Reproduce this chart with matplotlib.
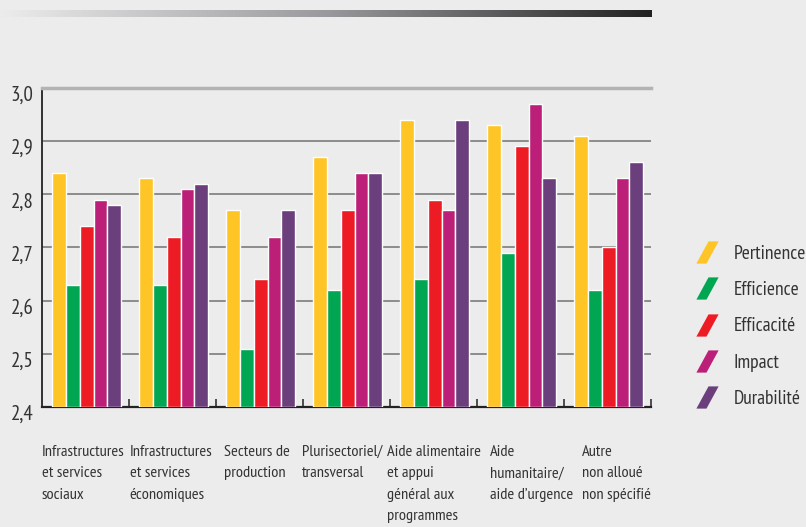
import matplotlib
matplotlib.use("Agg")
import matplotlib.pyplot as plt
import numpy as np
from matplotlib.lines import Line2D
from matplotlib.path import Path
from matplotlib.transforms import ScaledTranslation

categories = [
    "Infrastructures\net services\nsociaux",
    "Infrastructures\net services\néconomiques",
    "Secteurs de\nproduction",
    "Plurisectoriel/\ntransversal",
    "Aide alimentaire\net appui\ngénéral aux\nprogrammes",
    "Aide\nhumanitaire/\naide d\u2019urgence",
    "Autre\nnon alloué\nnon spécifié",
]
series = ["Pertinence", "Efficience", "Efficacité", "Impact", "Durabilité"]
pertinence = [2.84, 2.83, 2.77, 2.87, 2.94, 2.93, 2.91]
efficience = [2.63, 2.63, 2.51, 2.62, 2.64, 2.69, 2.62]
efficacite = [2.74, 2.72, 2.64, 2.77, 2.79, 2.89, 2.70]
impact = [2.79, 2.81, 2.72, 2.84, 2.77, 2.97, 2.83]
durabilite = [2.78, 2.82, 2.77, 2.84, 2.94, 2.83, 2.86]
values = [pertinence, efficience, efficacite, impact, durabilite]
colors = ["#ffc425", "#00a651", "#ed1c24", "#bb1f77", "#6a3f7c"]
yticks = [2.4, 2.5, 2.6, 2.7, 2.8, 2.9, 3.0]

# layout of category labels (group units)
label_x = [0.0, 1.01, 2.09, 2.99, 3.97, 5.15, 6.21]

FONT = ["PT Sans Narrow", "DejaVu Sans"]
BG = "#ececec"
TEXT = "#333333"

fig = plt.figure(figsize=(8.06, 5.27), dpi=100, facecolor=BG)

# gradient band at the top
band = fig.add_axes([0, 1 - 17 / 527, 652 / 806, 7 / 527])
grad = np.linspace(0, 1, 256).reshape(1, -1)
band.imshow(grad, aspect="auto", cmap=matplotlib.colors.LinearSegmentedColormap.from_list(
    "band", ["#ececec", "#9a9a9e", "#222222"]))
band.axis("off")

ax = fig.add_axes([42 / 806, 1 - 407 / 527, 609 / 806, 319 / 527])
ax.set_facecolor(BG)

n_groups = len(categories)
bar_w = 0.159
start = 0.115
x = np.arange(n_groups)
for k, (vals, col, name) in enumerate(zip(values, colors, series)):
    ax.bar(x + start + bar_w * (k + 0.5), np.array(vals) - 2.4, bar_w, bottom=2.4,
           color=col, edgecolor="white", linewidth=1, zorder=3, label=name)

ax.set_xlim(0, n_groups)
ax.set_ylim(2.4, 3.0)
ax.set_yticks(yticks)
ax.set_yticklabels([f"{t:.1f}".replace(".", ",") for t in yticks],
                   family=FONT, fontsize=15, color=TEXT)
for t in yticks[1:-1]:
    ax.axhline(t, color="#8c8c8c", linewidth=1.4, zorder=1)

ax.set_xticks(np.arange(1, n_groups + 1))
ax.set_xticklabels([])
ax.tick_params(axis="x", direction="in", length=6, width=1.2, color="#333333")
ax.tick_params(axis="y", length=0, pad=6)
offset = ScaledTranslation(0, -4 / 72, fig.dpi_scale_trans)
for lab in ax.get_yticklabels():
    lab.set_transform(lab.get_transform() + offset)

ax.spines["right"].set_visible(False)
ax.spines["top"].set_color("#b3b3b3")
ax.spines["top"].set_linewidth(2.5)
ax.spines["left"].set_color("#222222")
ax.spines["left"].set_linewidth(1.3)
ax.spines["bottom"].set_color("#222222")
ax.spines["bottom"].set_linewidth(1.6)

for lx, cat in zip(label_x, categories):
    ax.text(lx, -0.119, cat, transform=ax.get_xaxis_transform(), ha="left", va="top",
            family=FONT, fontsize=11.8, color=TEXT, linespacing=1.68)

# legend with slanted parallelogram glyphs
para = Path([(-11, -11), (-1, -11), (11, 11), (1, 11), (-11, -11)],
            [Path.MOVETO, Path.LINETO, Path.LINETO, Path.LINETO, Path.CLOSEPOLY])
handles = [Line2D([], [], marker=para, linestyle="none", markersize=16, color=c,
                  markeredgewidth=0) for c in colors]
leg = fig.legend(handles, series, loc="upper left", bbox_to_anchor=(684 / 806, 1 - 237 / 527),
                 frameon=False, prop={"family": FONT, "size": 14}, labelcolor=TEXT,
                 labelspacing=0.94, handlelength=1.6, handletextpad=0.54, borderaxespad=0)

fig.savefig("out.png", dpi=100, facecolor=BG)
